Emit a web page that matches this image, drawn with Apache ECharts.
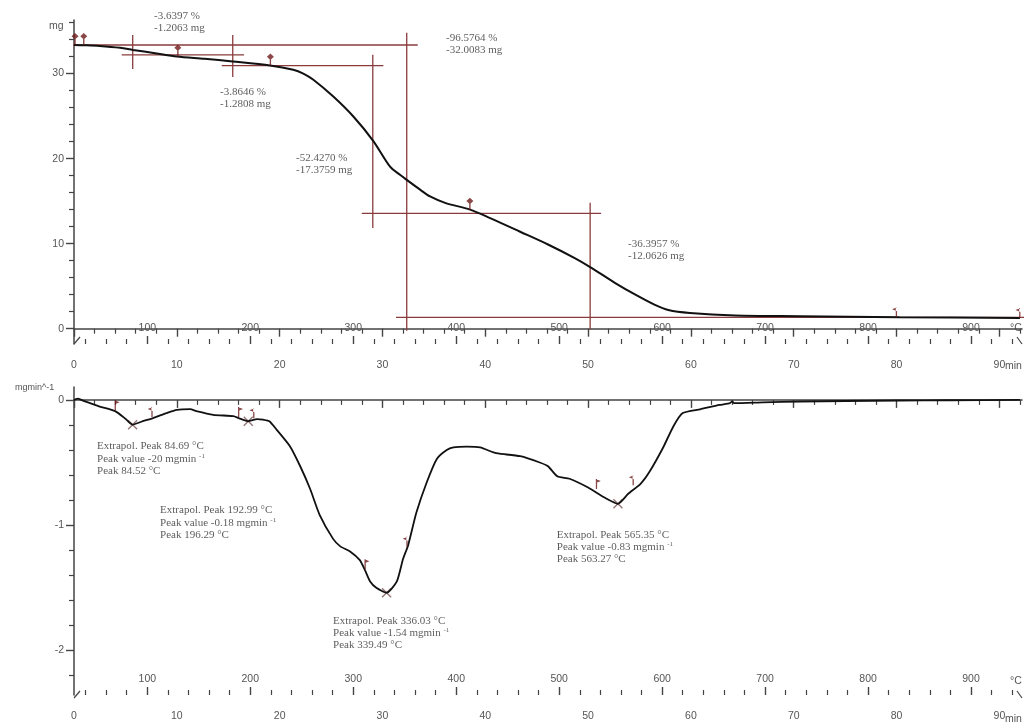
<!DOCTYPE html>
<html>
<head>
<meta charset="utf-8">
<script src="https://cdn.jsdelivr.net/npm/echarts@6/dist/echarts.min.js"></script>
<style>
html,body{margin:0;padding:0;background:#fff;}
#chart{width:1035px;height:722px;}
</style>
</head>
<body>
<div id="chart"></div>
<script>
// ---------------- DATA ----------------
// TG curve: time (min) vs mass (mg)
const tgTime = [0,1,2.5,4.5,5.74,7.9,10,12.7,15.44,19.07,21.33,22.3,23.28,25.22,27.17,29.08,30.74,31.7,32.36,33.66,34.63,36.09,38.52,40.47,43.39,46.1,48.7,50.2,52.6,54.6,56.5,57.8,59.9,64.3,70.6,80.3,92.0];
const tgMass = [33.36,33.33,33.25,33.03,32.78,32.4,32.0,31.74,31.43,30.96,30.45,30.0,29.28,27.3,24.95,22.12,19.05,18.1,17.5,16.35,15.55,14.8,14.0,13.0,11.4,9.9,8.3,7.25,5.4,4.0,2.8,2.2,1.85,1.56,1.47,1.35,1.26];

// DTG curve: time (min) vs rate (mg/min)
const dtgTime = [0,0.4,1,2.5,4.0,5.0,5.7,6.7,7.7,9.0,10.0,11.3,11.9,13.55,15.5,16.0,16.95,17.8,18.4,19.0,19.7,21.0,22.0,22.96,23.9,25.2,25.9,26.85,27.8,28.3,28.8,29.4,30.4,31.4,32.0,32.5,33.3,34.3,35.3,36.25,36.9,38.2,39.5,40.8,41.4,43.4,45.3,46.1,47.0,48.2,50.0,51.6,52.9,53.9,55.1,56.0,57.3,58.3,59.2,60.9,62.8,63.8,64.0,64.2,67,70.6,75,80.3,85,92.0];
const dtgRate = [0,0.01,-0.01,-0.053,-0.09,-0.15,-0.198,-0.17,-0.145,-0.105,-0.079,-0.074,-0.09,-0.119,-0.13,-0.145,-0.17,-0.153,-0.158,-0.17,-0.237,-0.37,-0.53,-0.71,-0.92,-1.11,-1.17,-1.21,-1.28,-1.36,-1.45,-1.50,-1.54,-1.45,-1.27,-1.16,-0.9,-0.66,-0.47,-0.40,-0.38,-0.374,-0.38,-0.42,-0.43,-0.45,-0.5,-0.53,-0.61,-0.63,-0.70,-0.78,-0.83,-0.75,-0.67,-0.57,-0.38,-0.21,-0.105,-0.075,-0.04,-0.026,-0.012,-0.026,-0.02,-0.013,-0.009,-0.005,-0.003,0];

// TG step construction lines: horizontal [tStart, tEnd, mass], vertical [t, massFrom, massTo]
const tgStepH = [[-1.05,33.43,33.36],[4.64,16.54,32.2],[14.37,30.09,30.93],[27.99,51.26,13.57],[31.32,93.6,1.34]];
const tgStepV = [[5.71,34.55,30.55],[15.44,34.55,29.6],[29.06,32.2,11.85],[32.36,34.8,-0.25],[50.2,14.8,-0.1]];

// evaluation markers
const tgPins = [[0.1,33.36],[0.95,33.36],[10.1,32.0],[19.1,30.96],[38.5,14.0]];
const tgFlags = [[80.0,1.35],[92.0,1.26]];
const dtgPeaks = [[5.7,-0.198],[16.95,-0.17],[30.4,-1.54],[52.9,-0.83]];
const dtgFlagsR = [[4.0,-0.09],[16.0,-0.145],[28.3,-1.36],[50.8,-0.72]];
const dtgFlagsL = [[7.6,-0.145],[17.5,-0.155],[32.4,-1.18],[54.4,-0.69]];

// annotation texts
const tgNotes = [['-3.6397 %','-1.2063 mg'],['-3.8646 %','-1.2808 mg'],['-52.4270 %','-17.3759 mg'],['-96.5764 %','-32.0083 mg'],['-36.3957 %','-12.0626 mg']];
const dtgNotes = [['84.69','-20','84.52'],['192.99','-0.18','196.29'],['336.03','-1.54','339.49'],['565.35','-0.83','563.27']];

// axis tick values
const timeMajor = [0,10,20,30,40,50,60,70,80,90];
const tempMajor = [100,200,300,400,500,600,700,800,900];
const mgMajor = [0,10,20,30];
const rateMajor = [0,-1,-2];

// ---------------- LAYOUT ----------------
const L = 74, R = 13;
const G0 = {top:20, height:324};
const G1 = {top:387, height:311};
const T_MIN = 0, T_MAX = 92.2;
const C_MIN = 28.8, C_MAX = 949.5;
const tgNoteAt = [[7.78,37.5],[14.2,28.54],[21.6,20.78],[36.19,34.89],[53.89,10.67]];
const dtgNoteAt = [[2.24,-0.322],[8.37,-0.835],[25.2,-1.716],[46.96,-1.028]];

function range(a,b,s){const o=[];for(let v=a;v<=b+1e-9;v+=s)o.push(Math.round(v*1000)/1000);return o;}
const timeMinor = range(0,92,2).filter(v=>v%10!==0);
const tempMinor = range(40,940,20).filter(v=>v%100!==0);
const mgMinor = range(0,36,2).filter(v=>v%10!==0);
const rateMinor = range(-2.2,0,0.2).filter(v=>Math.abs(v-Math.round(v))>1e-6);

const AX = '#444';
const LBL = {color:'#555', fontFamily:'Liberation Sans', fontSize:10.5};
const RED = '#8a3c3c';

function xAxes(g){
  return [
    {gridIndex:g,type:'value',min:T_MIN,max:T_MAX,position:'bottom',
     axisLine:{show:true,lineStyle:{color:AX,width:1.5}},
     axisTick:{show:true,customValues:timeMinor,length:5,lineStyle:{color:AX,width:1.2}},
     axisLabel:{show:false},splitLine:{show:false}},
    {gridIndex:g,type:'value',min:T_MIN,max:T_MAX,position:'bottom',
     axisLine:{show:false},
     axisTick:{show:true,customValues:timeMajor,length:8,lineStyle:{color:AX,width:1.4}},
     axisLabel:Object.assign({show:true,customValues:timeMajor,margin:16},LBL),splitLine:{show:false}},
    {gridIndex:g,type:'value',min:C_MIN,max:C_MAX,position:'bottom',
     axisLine:{show:false},
     axisTick:{show:true,inside:true,customValues:tempMinor,length:5,lineStyle:{color:AX,width:1.2}},
     axisLabel:{show:false},splitLine:{show:false}},
    {gridIndex:g,type:'value',min:C_MIN,max:C_MAX,position:'bottom',
     axisLine:{show:false},
     axisTick:{show:true,inside:true,customValues:tempMajor,length:8,lineStyle:{color:AX,width:1.4}},
     axisLabel:Object.assign({show:true,inside:true,customValues:tempMajor,margin:10},LBL),splitLine:{show:false}}
  ];
}
function yAxes(g,min,max,minor,major){
  return [
    {gridIndex:g,type:'value',min:min,max:max,position:'left',
     axisLine:{show:true,lineStyle:{color:AX,width:1.5}},
     axisTick:{show:true,customValues:minor,length:5,lineStyle:{color:AX,width:1.2}},
     axisLabel:{show:false},splitLine:{show:false}},
    {gridIndex:g,type:'value',min:min,max:max,position:'left',
     axisLine:{show:false},
     axisTick:{show:true,customValues:major,length:8,lineStyle:{color:AX,width:1.4}},
     axisLabel:Object.assign({show:true,customValues:major,margin:10},LBL),splitLine:{show:false}}
  ];
}

const series = [];
// TG curve
series.push({type:'line',xAxisIndex:0,yAxisIndex:0,data:tgTime.map((t,i)=>[t,tgMass[i]]),
  showSymbol:false,smooth:0.3,lineStyle:{color:'#111',width:2},z:5,silent:true});
// construction lines
tgStepH.forEach(h=>series.push({type:'line',xAxisIndex:0,yAxisIndex:0,data:[[h[0],h[2]],[h[1],h[2]]],
  showSymbol:false,clip:false,lineStyle:{color:RED,width:1.3},z:3,silent:true}));
tgStepV.forEach(v=>series.push({type:'line',xAxisIndex:0,yAxisIndex:0,data:[[v[0],v[1]],[v[0],v[2]]],
  showSymbol:false,clip:false,lineStyle:{color:RED,width:1.3},z:3,silent:true}));

const PIN = 'path://M3,0L6,3L3,6L0,3Z M2.4,5H3.6V11H2.4Z';
const FLAG_R = 'path://M0,0L5,2L0,4Z M0,0H1.3V10H0Z';
const FLAG_L = 'path://M5,0L0,2L5,4Z M3.7,0H5V10H3.7Z';
const CROSS = 'path://M1,0L5,4L9,0L10,1L6,5L10,9L9,10L5,6L1,10L0,9L4,5L0,1Z';
const MK = '#6e1a1a';

series.push({type:'scatter',xAxisIndex:0,yAxisIndex:0,data:tgPins,symbol:PIN,symbolSize:[7,12],symbolOffset:[0,-6],
  itemStyle:{color:MK},z:6,silent:true,clip:false});
series.push({type:'scatter',xAxisIndex:0,yAxisIndex:0,data:tgFlags,symbol:FLAG_L,symbolSize:[5,10],symbolOffset:[-2,-5],
  itemStyle:{color:MK},z:6,silent:true,clip:false});

const noteFont = {fontFamily:'Liberation Serif',fontSize:11,color:'#333',lineHeight:12.3};
series.push({type:'scatter',xAxisIndex:0,yAxisIndex:0,clip:false,symbolSize:0,silent:true,
  data:tgNoteAt.map((p,i)=>({value:p,name:tgNotes[i].join('\n')})),
  label:Object.assign({show:true,position:[0,0],align:'left',verticalAlign:'top',formatter:p=>p.name},noteFont)});

// DTG
series.push({type:'line',xAxisIndex:4,yAxisIndex:2,data:dtgTime.map((t,i)=>[t,dtgRate[i]]),
  showSymbol:false,smooth:0.2,lineStyle:{color:'#111',width:1.8},z:5,silent:true});
series.push({type:'scatter',xAxisIndex:4,yAxisIndex:2,data:dtgPeaks,symbol:CROSS,symbolSize:10,
  itemStyle:{color:'#7a5555'},z:4,silent:true});
series.push({type:'scatter',xAxisIndex:4,yAxisIndex:2,data:dtgFlagsR,symbol:FLAG_R,symbolSize:[5,10],symbolOffset:[2,-6],
  itemStyle:{color:MK},z:6,silent:true});
series.push({type:'scatter',xAxisIndex:4,yAxisIndex:2,data:dtgFlagsL,symbol:FLAG_L,symbolSize:[5,10],symbolOffset:[-2,-6],
  itemStyle:{color:MK},z:6,silent:true});
series.push({type:'scatter',xAxisIndex:4,yAxisIndex:2,clip:false,symbolSize:0,silent:true,
  data:dtgNoteAt.map((p,i)=>({value:p,name:'Extrapol. Peak '+dtgNotes[i][0]+' °C\nPeak value '+dtgNotes[i][1]+' mgmin {s|-1}\nPeak '+dtgNotes[i][2]+' °C'})),
  label:Object.assign({show:true,position:[0,0],align:'left',verticalAlign:'top',formatter:p=>p.name,
    rich:{s:{fontFamily:'Liberation Serif',fontSize:7,color:'#333',verticalAlign:'top',lineHeight:12.3}}},noteFont)});

const g0b = G0.top+G0.height, g1b = G1.top+G1.height, xr = 1035-R;
const unitStyle = {fill:'#555',font:'10.5px "Liberation Sans"'};
const option = {
  animation:false,
  backgroundColor:'#fff',
  grid:[{left:L,right:R,top:G0.top,height:G0.height},{left:L,right:R,top:G1.top,height:G1.height}],
  xAxis:[].concat(xAxes(0),xAxes(1)),
  yAxis:[].concat(yAxes(0,-1.8,36.3,mgMinor,mgMajor),yAxes(1,-2.357,0.103,rateMinor,rateMajor)),
  series:series,
  graphic:[
    {type:'text',left:49,top:21,style:Object.assign({text:'mg'},unitStyle)},
    {type:'text',left:15,top:383,style:{text:'mgmin^-1',fill:'#555',font:'9px "Liberation Sans"'}},
    {type:'text',left:1010,top:g0b-21,style:Object.assign({text:'°C'},unitStyle)},
    {type:'text',left:1005,top:g0b+17,style:Object.assign({text:'min'},unitStyle)},
    {type:'text',left:1010,top:g1b-22,style:Object.assign({text:'°C'},unitStyle)},
    {type:'text',left:1005,top:g1b+16,style:Object.assign({text:'min'},unitStyle)},
    {type:'line',shape:{x1:L,y1:g0b,x2:L+6,y2:g0b-7},style:{stroke:AX,lineWidth:1.2}},
    {type:'line',shape:{x1:L,y1:g1b,x2:L+6,y2:g1b-7},style:{stroke:AX,lineWidth:1.2}},
    {type:'line',shape:{x1:xr-5,y1:g0b-7,x2:xr,y2:g0b},style:{stroke:AX,lineWidth:1.2}},
    {type:'line',shape:{x1:xr-5,y1:g1b-7,x2:xr,y2:g1b},style:{stroke:AX,lineWidth:1.2}}
  ]
};
const chart = echarts.init(document.getElementById('chart'),null,{renderer:'canvas'});
chart.setOption(option);
</script>
</body>
</html>
